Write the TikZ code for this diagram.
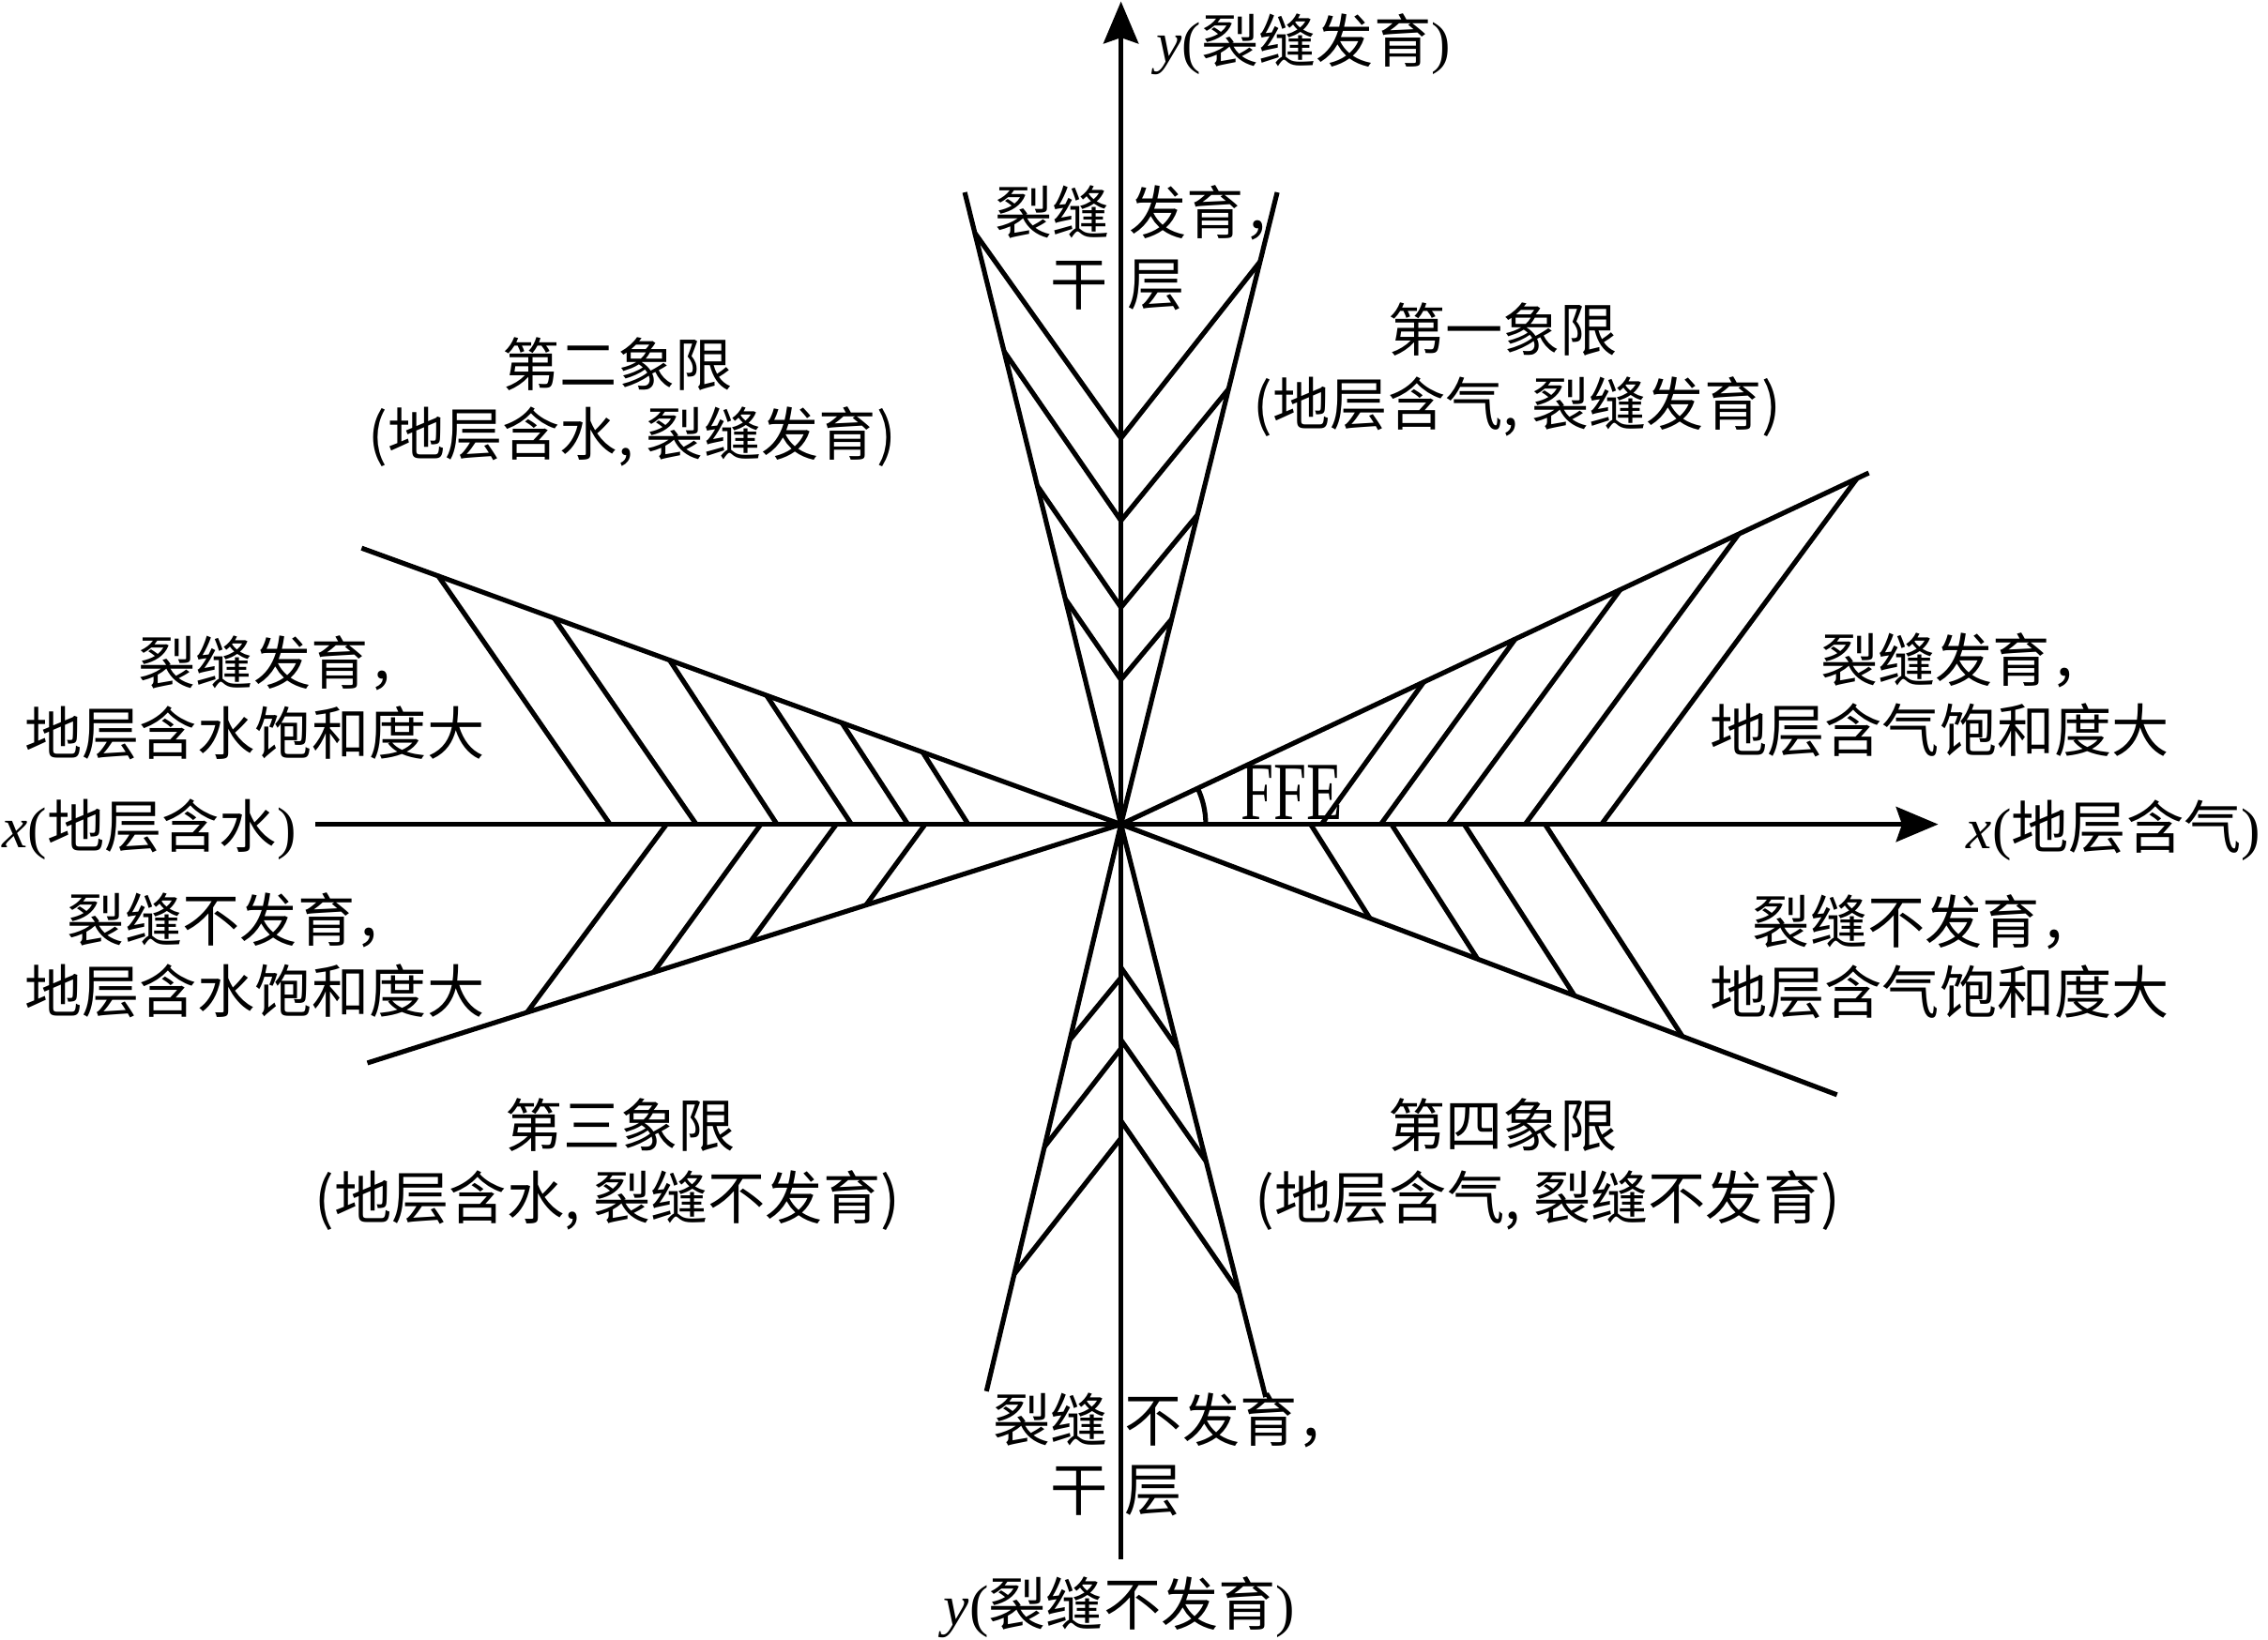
\documentclass[tikz,border=0pt]{standalone}
\usepackage{fontspec}
\setmainfont{Liberation Serif}
\newfontfamily\cjk{Noto Sans CJK SC}
\usetikzlibrary{arrows.meta}
\newcommand{\lat}[1]{{\rmfamily #1}}
\begin{document}
\begin{tikzpicture}[x=0.01cm,y=-0.01cm,
  ln/.style={line width=0.95pt,line join=round},
  ax/.style={line width=1.05pt},
  tip/.style={-{Stealth[length=0.29cm,width=0.24cm,inset=0.04cm]}},
  lbl/.style={inner sep=0pt,font=\cjk\fontsize{11.3}{13.6}\selectfont,text height=9.94pt,text depth=1.36pt},
]
\useasboundingbox (0,0) rectangle (1568,1134);
\coordinate (O) at (775,570);
% axes
\coordinate (xl) at (218,570);
\coordinate (xr) at (1340,570);
\coordinate (yb) at (775,1078);
\coordinate (yt) at (775,1);
\draw[ax,tip] (xl) -- (xr);
\draw[ax,tip] (yb) -- (yt);
% wedge boundaries
\coordinate (TL) at (667,133);
\coordinate (TR) at (883,133);
\coordinate (BL) at (682,962);
\coordinate (BR) at (875,966);
\coordinate (LU) at (250,379);
\coordinate (LL) at (254,735);
\coordinate (RU) at (1292,327);
\coordinate (RL) at (1270,757);
\draw[ln] (TL) -- (O) -- (TR);
\draw[ln] (BL) -- (O) -- (BR);
\draw[ln] (LU) -- (O) -- (LL);
\draw[ln] (RU) -- (O) -- (RL);
% top chevrons
\foreach \a/\b/\c/\d/\e in {673.9/161/303/871.1/181, 694.2/243/360/849.4/269, 717.2/336/420/827.9/356, 736.4/414/470/810.1/428}
  \draw[ln] (\a,\b) -- (775,\c) -- (\d,\e);
% bottom chevrons
\foreach \a/\b/\c/\d/\e/\f in {676/739.7/719/669/814.1/725, 725/722.1/793/719/833.8/803, 787/701.2/881/775/856.8/894}
  {\draw[ln] (775,\a) -- (\b,\c);
   \draw[ln] (775,\d) -- (\e,\f);}
% left chevrons
\foreach \a/\b/\c in {302.6/397.7/421.8, 382.7/426.9/481.4, 462.7/456.1/537.2, 529.7/480.5/588.7, 581.9/499.6/627.7, 637.8/520/669.4}
  \draw[ln] (\a,\b) -- (\c,570);
\foreach \a/\b/\c in {460.8/364.1/700.4, 526/451.6/672.7, 578.2/518.6/651.4, 639.6/598.6/626}
  \draw[ln] (\a,570) -- (\b,\c);
% right chevrons
\foreach \a/\b/\c in {913.6/984.4/471.5, 954.6/1047.7/441.7, 1001.1/1120.3/407.6, 1054.4/1202.2/369.1, 1107.2/1284.1/330.5}
  \draw[ln] (\a,570) -- (\b,\c);
\foreach \a/\b/\c in {906.1/947.1/635, 962/1021.6/663.2, 1012.3/1088.6/688.5, 1068.2/1163.2/716.7}
  \draw[ln] (\a,570) -- (\b,\c);
% angle
\draw[ln] (833.6,570) arc[start angle=0,end angle=-25.2,radius=58.6];
\node[anchor=base west,inner sep=0pt,font=\fontsize{11.6}{13}\selectfont] (ffe) at (857,567) {\scalebox{1}[1.4]{FFE}};
% axis labels
\node[lbl,anchor=west] (ytop) at (799,28) {\lat{\itshape y}\lat{(}裂缝发育\lat{)}};
\node[lbl] (ybot) at (774,1109) {\lat{\itshape y}\lat{(}裂缝不发育\lat{)}};
\node[lbl,anchor=west] (xleft) at (1,571) {\lat{\itshape x}\lat{(}地层含水\lat{)}};
\node[lbl,anchor=west] (xright) at (1359,572) {\lat{\itshape x}\lat{(}地层含气\lat{)}};
% quadrant labels
\node[lbl] (q1a) at (1039,228) {第一象限};
\node[lbl] (q1b) at (1049,279) {(地层含气, 裂缝发育)};
\node[lbl] (q2a) at (427,252) {第二象限};
\node[lbl] (q2b) at (437,300) {(地层含水, 裂缝发育)};
\node[lbl] (q3a) at (429,778) {第三象限};
\node[lbl] (q3b) at (420,828) {(地层含水, 裂缝不发育)};
\node[lbl] (q4a) at (1039,778) {第四象限};
\node[lbl] (q4b) at (1070,828) {(地层含气, 裂缝不发育)};
% side labels
\node[lbl,anchor=west] (lu1) at (95,458) {裂缝发育，};
\node[lbl] (lu2) at (176,507) {地层含水饱和度大};
\node[lbl,anchor=west] (ll1) at (46,636) {裂缝不发育，};
\node[lbl] (ll2) at (176,685) {地层含水饱和度大};
\node[lbl,anchor=west] (ru1) at (1258,456) {裂缝发育，};
\node[lbl] (ru2) at (1341,505) {地层含气饱和度大};
\node[lbl,anchor=west] (rl1) at (1211,637) {裂缝不发育，};
\node[lbl] (rl2) at (1341,686) {地层含气饱和度大};
% top / bottom wedge labels
\node[lbl,anchor=east] (t1) at (768,147) {裂缝};
\node[lbl,anchor=west] (t2) at (780,147) {发育，};
\node[lbl,anchor=east] (t3) at (767,196) {干};
\node[lbl,anchor=west] (t4) at (779,196) {层};
\node[lbl,anchor=east] (b1) at (767,982) {裂缝};
\node[lbl,anchor=west] (b2) at (777,982) {不发育，};
\node[lbl,anchor=east] (b3) at (767,1030) {干};
\node[lbl,anchor=west] (b4) at (777,1030) {层};
\end{tikzpicture}
\end{document}
